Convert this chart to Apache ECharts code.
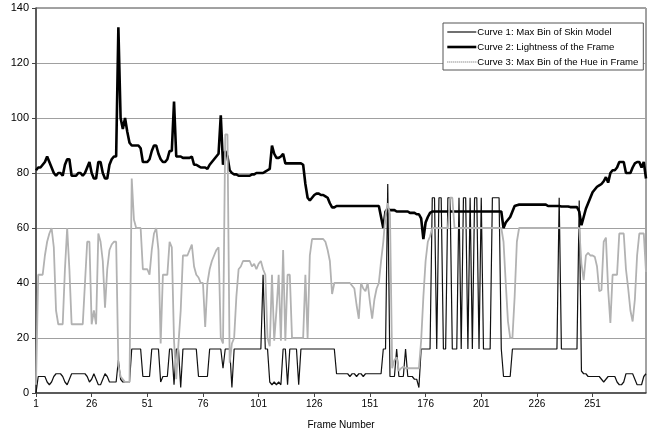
<!DOCTYPE html>
<html>
<head>
<meta charset="utf-8">
<script src="https://cdn.jsdelivr.net/npm/echarts@6/dist/echarts.min.js"></script>
<style>
  html, body { margin: 0; padding: 0; background: #fff; }
  #main { width: 651px; height: 436px; }
</style>
</head>
<body>
<div id="main"></div>
<script>
// frame numbers 1..275 (category labels)
var frames = [];
for (var i = 1; i <= 275; i++) frames.push(String(i));

// Curve 1: Max Bin of Skin Model
var skinBin = [
  0,6,6,6,6, 4,3,4,6,7, 7,7,6,4,3, 5,7,7,7,7, 7,7,7,6,4,
  5,7,5,3,3, 5,7,6,4,4, 4,4,12,5,4, 4,4,4,16,16, 16,16,16,6,6,
  6,6,16,16,16, 16,4,6,6,6, 16,16,3,16,16, 2,16,16,16,16, 16,16,16,6,6,
  6,6,6,16,16, 16,16,16,16,9, 16,16,16,2,16, 16,16,16,16,16, 16,16,16,16,16,
  16,16,43,16,16, 4,3,4,3,4, 3,16,16,3,16, 16,16,16,3,16, 16,16,16,16,16,
  16,16,16,16,16, 16,16,16,16,16, 7,7,7,7,7, 7,6,7,7,6, 7,7,6,7,7,
  7,7,7,7,7, 7,16,16,76,6, 6,6,16,6,6, 6,16,6,6,6, 5,5,2,16,16,
  16,16,16,71,71, 16,71,71,16,16, 71,71,16,16,16, 71,16,71,71,16, 71,16,71,71,16,
  71,16,16,16,16, 71,71,71,71,16, 6,6,6,6,16, 16,16,16,16,16, 16,16,16,16,16,
  16,16,16,16,16, 16,16,16,16,16, 71,16,16,16,16, 16,16,16,16,70, 8,7,7,6,6,
  6,6,6,6,5, 4,5,6,6,6, 6,4,3,3,4, 7,7,7,7,5, 3,3,3,6,7
];

// Curve 2: Lightness of the Frame
var lightness = [
  81,82,82,83,84, 86,84,82,80,79, 80,80,79,83,85, 85,79,79,79,80, 80,79,80,82,84,
  80,78,78,84,84, 80,78,78,83,85, 86,86,133,100,96, 100,95,91,90,90, 90,90,89,84,84,
  84,85,88,90,90, 87,85,84,84,85, 88,88,106,86,86, 86,85.5,85.5,85.5,85.5, 86,83,83,82.5,82,
  82,82,81.5,83,84, 85,86,87,101,83, 88,86,81,80,79.5, 79.5,79,79,79,79, 79,79,79.5,79.5,80,
  80,80,80,80.5,81, 81.5,90,87,85.5,85.5, 86,87,83.5,83.5,83.5, 83.5,83.5,83.5,83.5,83.5, 83,76,71,70,71,
  72,72.5,72.5,72,72, 71.5,71,69,67.5,67.5, 68,68,68,68,68, 68,68,68,68,68, 68,68,68,68,68,
  68,68,68,68,68, 64,60,66,67,66.5, 66.5,66.5,66,66,66, 66,66,66,65.5,65.5, 65.5,65,65,63.5,56,
  62,64,65.5,66,66, 66,66,66,66,66, 66,66,66,66,66, 66,66,66,66,66, 66,66,66,66,66,
  66,66,66,66,66, 66,66,66,66,66, 60,62,63,64,66, 68,68.3,68.5,68.5,68.5, 68.5,68.5,68.5,68.5,68.5,
  68.5,68.5,68.5,68.5,68.5, 68,68,68,68,68, 68,67.8,67.8,67.8,67.8, 67.6,67.6,67.6,67.6,66, 61,64,67,69,71,
  73,74,75,75.5,76, 77,78.5,76.5,80,81, 81,82,84,84,84, 80,80,80,82,83.5, 84,84,82,84,78
];

// Curve 3: Max Bin of the Hue in Frame
var hueBin = [
  3,43,43,43,50, 55,58,60,53,30, 25,25,25,45,60, 45,25,25,25,25, 25,25,40,55,55,
  25,30,25,58,55, 48,31,45,52,54, 55,55,10,6,5, 4,4,4,78,63, 60,60,60,45,45,
  45,43,52,58,60, 52,18,43,43,43, 55,53,19,5,18, 30,50,50,50,52, 54,46,43,42,40,
  40,24,40,45,48, 50,52,53,20,18, 94,94,11,18,20, 35,45,46,48,48, 48,48,46,47,45,
  47,48,45,43,20, 17,43,19,30,43, 19,52,19,43,43, 20,20,20,20,20, 20,43,20,50,56,
  56,56,56,56,56, 55,52,48,36,40, 40,40,40,40,40, 40,40,39,38,32, 27,40,38,37,40,
  33,27,34,38,40, 48,55,65,69,65, 9,12,13,8,9, 9.5,9,9,9,9, 9,9,9,19,35,
  48,55,57,60,60, 60,60,60,60,60, 60,71,71,60,60, 60,60,60,60,60, 60,60,60,60,60,
  60,60,60,60,60, 60,60,60,60,60, 55,40,26,20,20, 35,55,60,60,60, 60,60,60,60,60,
  60,60,60,60,60, 60,60,60,60,60, 60,60,60,60,60, 60,60,60,60,60, 47,41,50,51,50,
  50,49.5,46,37,37.5, 55,56.5,37.5,25.5,43, 43,43,58,58,58, 45,38,30,26,34, 50,58,58,58,44
];

var seriesNames = [
  'Curve 1: Max Bin of Skin Model',
  'Curve 2: Lightness of the Frame',
  'Curve 3: Max Bin of the Hue in Frame'
];

var myChart = echarts.init(document.getElementById('main'));

var font = 'Liberation Sans, Arial, sans-serif';

var option = {
    animation: false,
    textStyle: { fontFamily: font },
    grid: {
        left: 36,
        right: 5,
        top: 8,
        bottom: 43,
        show: true,
        borderColor: '#444',
        borderWidth: 1
    },
    legend: {
        data: [
            { name: seriesNames[0], lineStyle: { width: 1.2 } },
            { name: seriesNames[1], lineStyle: { width: 2.6 } },
            { name: seriesNames[2], lineStyle: { width: 1.5, type: [1, 1], color: '#999' } }
        ],
        orient: 'vertical',
        left: 443,
        top: 23,
        itemWidth: 29,
        itemHeight: 8,
        itemGap: 5,
        padding: [4, 5, 3, 3],
        backgroundColor: '#fff',
        borderColor: '#555',
        borderWidth: 1,
        itemStyle: { opacity: 0 },
        textStyle: { fontSize: 9.6, color: '#000', fontFamily: font, padding: [0, 0, 0, -4] }
    },
    xAxis: {
        type: 'category',
        data: frames,
        boundaryGap: false,
        name: 'Frame Number',
        nameLocation: 'middle',
        nameGap: 27,
        nameTextStyle: { fontSize: 10, color: '#000' },
        axisLine: { lineStyle: { color: '#444', width: 1.5 } },
        axisTick: { interval: 24, length: 4, lineStyle: { color: '#444' } },
        axisLabel: { interval: 24, fontSize: 10, color: '#000', margin: 6 },
        splitLine: { show: false }
    },
    yAxis: {
        type: 'value',
        min: 0,
        max: 140,
        interval: 20,
        axisLine: { show: true, lineStyle: { color: '#444', width: 1.5 } },
        axisTick: { show: true, length: 4, lineStyle: { color: '#444' } },
        axisLabel: { fontSize: 11, color: '#000', margin: 7 },
        splitLine: { lineStyle: { color: '#a0a0a0', width: 1 } }
    },
    series: [
        {
            name: seriesNames[0],
            type: 'line',
            data: skinBin,
            symbol: 'none',
            lineStyle: { color: '#111', width: 1.2 },
            itemStyle: { color: '#111' }
        },
        {
            name: seriesNames[1],
            type: 'line',
            data: lightness,
            symbol: 'none',
            lineStyle: { color: '#000', width: 2.6 },
            itemStyle: { color: '#000' }
        },
        {
            name: seriesNames[2],
            type: 'line',
            data: hueBin,
            symbol: 'none',
            lineStyle: { color: '#b2b2b2', width: 1.8 },
            itemStyle: { color: '#b2b2b2' }
        }
    ]
};

myChart.setOption(option);
</script>
</body>
</html>
